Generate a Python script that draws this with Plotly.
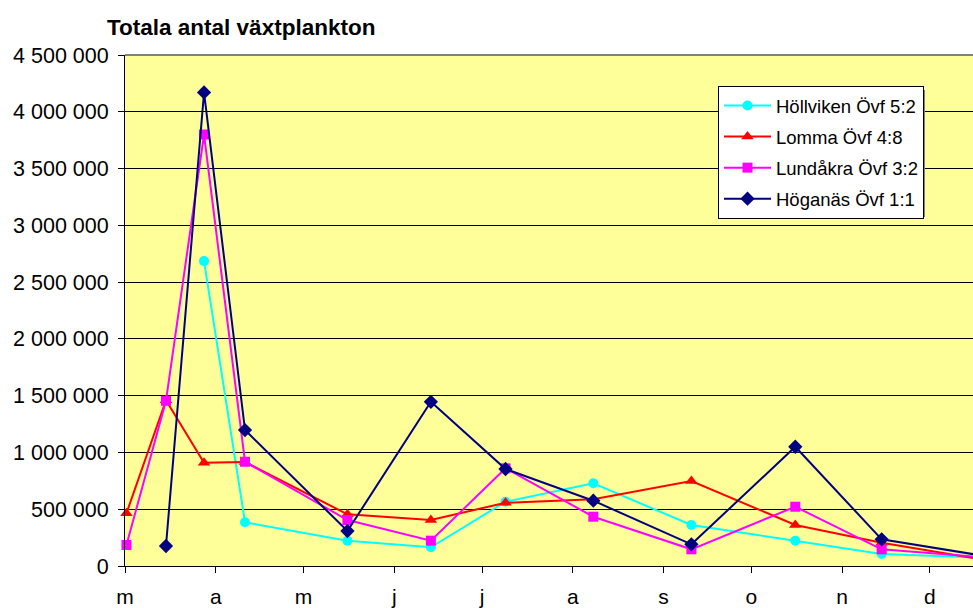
import plotly.graph_objects as go

dates = ["2005-03-01 12:00", "2005-03-15", "2005-03-28", "2005-04-11", "2005-05-16",
         "2005-06-13 12:00", "2005-07-09", "2005-08-08", "2005-09-10 12:00",
         "2005-10-16", "2005-11-14 12:00", "2005-12-18"]

hollviken = [None, None, 2685000, 385000, 223000, 165000, 566000, 728000, 361000, 223000, 106000, 75000]
lomma = [464000, 1460000, 909000, 915000, 455000, 405000, 557000, 587000, 748000, 361000, 205000, 60000]
lundakra = [185000, 1455000, 3800000, 918000, 405000, 223000, 860000, 434000, 147000, 522000, 147000, 80000]
hoganas = [None, 176000, 4170000, 1197000, 308000, 1446000, 854000, 575000, 191000, 1050000, 235000, 95000]

series_names = ["Höllviken Övf 5:2", "Lomma Övf 4:8", "Lundåkra Övf 3:2", "Höganäs Övf 1:1"]

month_ticks = ["2005-03-01", "2005-04-01", "2005-05-01", "2005-06-01", "2005-07-01",
               "2005-08-01", "2005-09-01", "2005-10-01", "2005-11-01", "2005-12-01"]
month_labels = ["m", "a", "m", "j", "j", "a", "s", "o", "n", "d"]

y_ticks = [0, 500000, 1000000, 1500000, 2000000, 2500000, 3000000, 3500000, 4000000, 4500000]
y_labels = ["0", "500 000", "1 000 000", "1 500 000", "2 000 000", "2 500 000",
            "3 000 000", "3 500 000", "4 000 000", "4 500 000"]

title_text = "Totala antal växtplankton"

FONT = "Liberation Sans, Arial, sans-serif"

styles = [
    dict(color="#00FFFF", symbol="circle", size=10),
    dict(color="#FF0000", symbol="triangle-up", size=11),
    dict(color="#FF00FF", symbol="square", size=10),
    dict(color="#000080", symbol="diamond", size=11),
]

PW, PH = 848, 511  # plot area in px (l=125, t=55)

def px_x(x):
    return (x - 125) / PW

def px_y(y):
    return (566 - y) / PH

fig = go.Figure()
for name, vals, st in zip(series_names, [hollviken, lomma, lundakra, hoganas], styles):
    fig.add_trace(go.Scatter(
        x=dates, y=vals, name=name, mode="lines+markers",
        line=dict(color=st["color"], width=2),
        marker=dict(color=st["color"], symbol=st["symbol"], size=st["size"],
                    line=dict(width=0)),
        connectgaps=False, cliponaxis=False, legendgroup=name,
    ))

fig.update_layout(
    width=973, height=608,
    margin=dict(l=125, r=0, t=55, b=42, autoexpand=False),
    paper_bgcolor="white",
    plot_bgcolor="#FFFF99",
    font=dict(family=FONT, size=21, color="black"),
    showlegend=True,
    legend=dict(
        x=px_x(718), y=px_y(86), xref="paper", yref="paper",
        xanchor="left", yanchor="top",
        bgcolor="white", bordercolor="black", borderwidth=1,
        font=dict(family=FONT, size=18.5, color="black"),
        traceorder="grouped", tracegroupgap=4, itemwidth=47,
    ),
    xaxis=dict(
        type="date", range=["2005-03-01", "2005-12-15 17:00"],
        tickvals=month_ticks, ticktext=month_labels, automargin=False,
        ticks="outside", ticklen=6, tickcolor="black", tickwidth=1,
        showline=True, linecolor="black", linewidth=1,
        showgrid=False, zeroline=False, ticklabelstandoff=6,
        tickfont=dict(family=FONT, size=21, color="black"),
    ),
    yaxis=dict(
        range=[0, 4500000], tickvals=y_ticks, ticktext=y_labels, automargin=False,
        ticks="outside", ticklen=6, tickcolor="black", tickwidth=1,
        showline=True, linecolor="black", linewidth=1,
        showgrid=True, gridcolor="black", gridwidth=1, zeroline=False,
        ticklabelstandoff=5,
        tickfont=dict(family=FONT, size=21.5, color="black"),
    ),
    annotations=[
        dict(text="<b>" + title_text + "</b>", xref="paper", yref="paper",
             x=px_x(105), y=px_y(27), xanchor="left", yanchor="middle",
             showarrow=False, font=dict(family=FONT, size=22.5, color="black")),
    ],
    shapes=[
        dict(type="line", xref="paper", yref="paper", x0=0, x1=1, y0=1, y1=1,
             line=dict(color="#808080", width=2)),
        dict(type="rect", xref="paper", yref="paper",
             x0=px_x(722), x1=px_x(925), y0=px_y(217), y1=px_y(90),
             fillcolor="#808080", line=dict(width=0), layer="above"),
    ],
)

fig.write_html("out.html", config={"displayModeBar": False},
               post_script="document.body.style.margin='0';document.body.style.overflow='hidden';")
